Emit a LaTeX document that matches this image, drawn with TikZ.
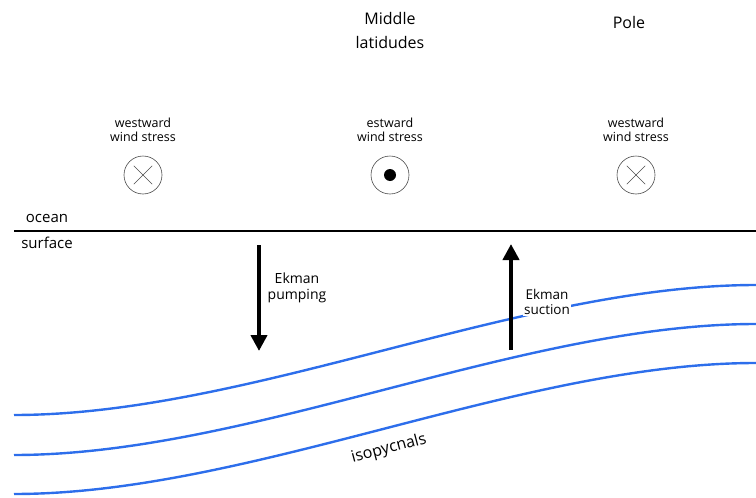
\documentclass[tikz,border=0pt]{standalone}
\usepackage{fontspec}
\setmainfont{Open Sans}
\usetikzlibrary{arrows.meta}
\definecolor{isoblue}{RGB}{45,110,235}

\begin{document}
\begin{tikzpicture}[x=1pt,y=-1pt,
  lbl/.style={align=center,font=\fontsize{12.5}{14.5}\selectfont,inner sep=1pt},
  big/.style={align=center,font=\fontsize{16}{24}\selectfont},
  windc/.style={circle,draw=black!70,line width=0.6pt,minimum size=38pt,inner sep=0pt,outer sep=0pt},
  ekman/.style={line width=4.5pt,-{Triangle[length=16pt,width=16pt]}},
  iso/.style={isoblue,line width=2.4pt}]
  \useasboundingbox (0,0) rectangle (756,498);

  \node[big] at (390,30) (mid) {Middle\\latidudes};
  \node[big] at (629,22) (pole) {Pole};

  \node[lbl] at (143,130) (ws1) {westward\\wind stress};
  \node[lbl] at (390,130) (es) {estward\\wind stress};
  \node[lbl] at (636,130) (ws2) {westward\\wind stress};

  \node[windc] at (143,175) (c1) {};
  \node[windc] at (390,175) (c2) {};
  \node[windc] at (636,175) (c3) {};

  \draw[black!70,line width=0.6pt,shorten <=6pt,shorten >=6pt] (c1.45) -- (c1.225);
  \draw[black!70,line width=0.6pt,shorten <=6pt,shorten >=6pt] (c1.135) -- (c1.315);
  \draw[black!70,line width=0.6pt,shorten <=6pt,shorten >=6pt] (c3.45) -- (c3.225);
  \draw[black!70,line width=0.6pt,shorten <=6pt,shorten >=6pt] (c3.135) -- (c3.315);
  \fill (c2) circle (6);

  \coordinate (s0) at (14,231);
  \coordinate (s1) at (756,231);
  \draw[line width=2.8pt] (s0) -- (s1);
  \node[lbl,font=\fontsize{15}{17}\selectfont] at (47,218) (ocean) {ocean};
  \node[lbl,font=\fontsize{15}{17}\selectfont] at (47,243) (surf) {surface};

  % isopycnals
  \draw[iso] (14,415) .. controls (250,415) and (520,285) .. (756,285);
  \draw[iso] (14,455) .. controls (250,455) and (520,324) .. (756,324);
  \draw[iso] (14,494) .. controls (250,494) and (520,363) .. (756,363);
  \node[lbl,rotate=15,font=\fontsize{16}{18}\selectfont] at (389,449) (isol) {isopycnals};

  \coordinate (p0) at (259,245);
  \coordinate (p1) at (259,351);
  \draw[ekman] (p0) -- (p1);
  \node[lbl,font=\fontsize{14}{16}\selectfont] at (297,288) (pump) {Ekman\\pumping};

  \coordinate (u0) at (511,350);
  \coordinate (u1) at (511,244);
  \draw[ekman] (u0) -- (u1);
  \node[lbl,fill=white,font=\fontsize{13.5}{15.5}\selectfont] at (547,302) (suct) {Ekman\\suction};
\end{tikzpicture}
\end{document}
